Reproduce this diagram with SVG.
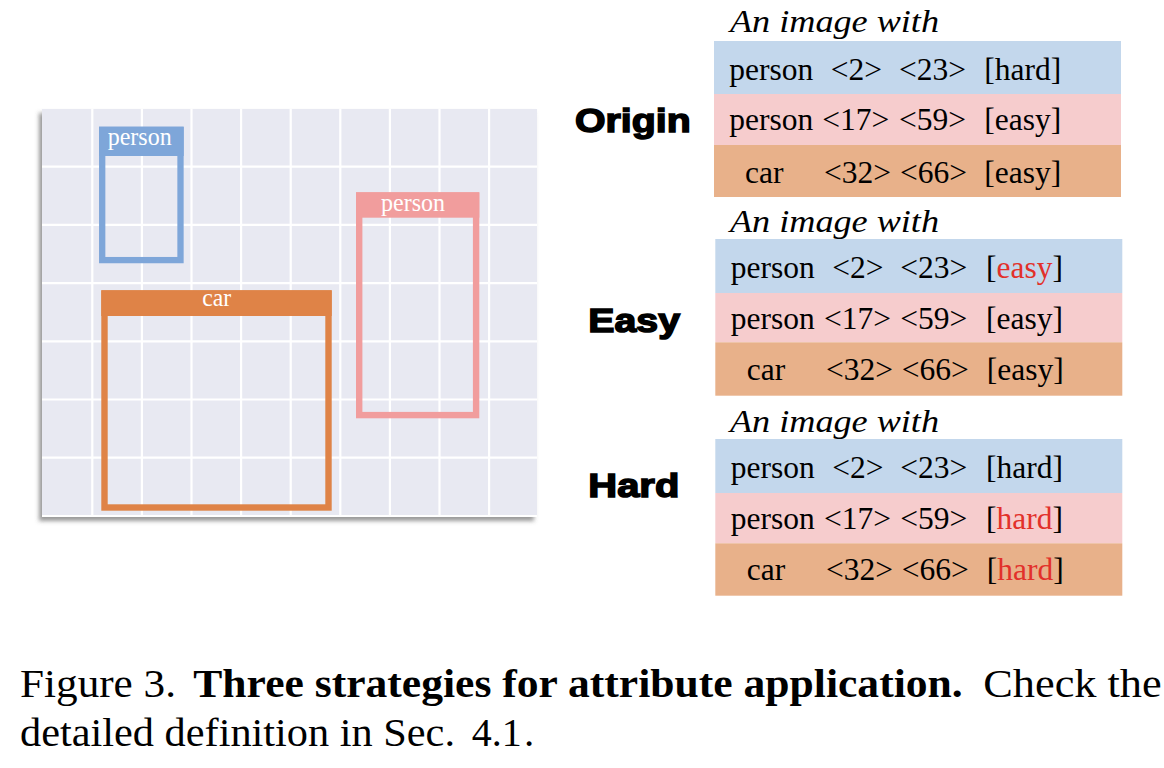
<svg xmlns="http://www.w3.org/2000/svg" width="1164" height="768" viewBox="0 0 1164 768">
<defs>
<filter id="shadow" x="-5%" y="-5%" width="110%" height="112%">
<feDropShadow dx="-3" dy="4" stdDeviation="2" flood-color="#555" flood-opacity="0.6"/>
</filter>
<style>
.grid{stroke:#ffffff;stroke-width:2.2;fill:none}
.lbl{font-family:"Liberation Serif","Times New Roman",serif;font-size:25px;fill:#ffffff;text-anchor:middle}
.row{font-family:"Liberation Serif","Times New Roman",serif;font-size:31.5px;fill:#000}
.it{font-family:"Liberation Serif","Times New Roman",serif;font-size:32px;font-style:italic;fill:#000}
.red{fill:#e2302a}
.sec{font-family:"Liberation Sans",Arial,sans-serif;font-size:34px;font-weight:bold;fill:#000;stroke:#000;stroke-width:1.5}
.cap{font-family:"Liberation Serif","Times New Roman",serif;font-size:41px;fill:#000}
.blue{fill:#c3d7ec}
.pink{fill:#f6cccd}
.orng{fill:#e8b18a}
</style>
</defs>
<rect width="1164" height="768" fill="#ffffff"/>

<g id="image">
<rect x="42" y="109" width="495" height="408" fill="#e8e9f2" filter="url(#shadow)"/>
<g class="grid">
<line x1="92.3" y1="109" x2="92.3" y2="517"/>
<line x1="141.9" y1="109" x2="141.9" y2="517"/>
<line x1="191.5" y1="109" x2="191.5" y2="517"/>
<line x1="241.1" y1="109" x2="241.1" y2="517"/>
<line x1="290.7" y1="109" x2="290.7" y2="517"/>
<line x1="340.3" y1="109" x2="340.3" y2="517"/>
<line x1="389.9" y1="109" x2="389.9" y2="517"/>
<line x1="439.5" y1="109" x2="439.5" y2="517"/>
<line x1="489.1" y1="109" x2="489.1" y2="517"/>
<line x1="42" y1="166.7" x2="537" y2="166.7"/>
<line x1="42" y1="224.9" x2="537" y2="224.9"/>
<line x1="42" y1="283.1" x2="537" y2="283.1"/>
<line x1="42" y1="341.3" x2="537" y2="341.3"/>
<line x1="42" y1="399.5" x2="537" y2="399.5"/>
<line x1="42" y1="457.7" x2="537" y2="457.7"/>
<line x1="42" y1="516" x2="537" y2="516"/>
</g>
</g>

<g id="box-person-blue">
<rect x="102.2" y="129.9" width="78.3" height="130.2" fill="none" stroke="#7ea6d9" stroke-width="6.3"/>
<rect x="99" y="126.7" width="84.7" height="29.3" fill="#7ea6d9"/>
<text class="lbl" x="139.7" y="145" textLength="64" lengthAdjust="spacingAndGlyphs">person</text>
</g>
<g id="box-person-pink">
<rect x="359.2" y="195.5" width="116.9" height="219.6" fill="none" stroke="#f19d9d" stroke-width="6.4"/>
<rect x="356" y="192.3" width="123.3" height="25.4" fill="#f19d9d"/>
<text class="lbl" x="413" y="211" textLength="64" lengthAdjust="spacingAndGlyphs">person</text>
</g>
<g id="box-car">
<rect x="104.5" y="293.5" width="224" height="214" fill="none" stroke="#df8347" stroke-width="6.4"/>
<rect x="101.3" y="290.3" width="230.4" height="25.7" fill="#df8347"/>
<text class="lbl" x="216.7" y="305.7" textLength="29" lengthAdjust="spacingAndGlyphs">car</text>
</g>

<g id="label-origin"><text class="sec" x="575" y="132.3" textLength="115.7" lengthAdjust="spacingAndGlyphs">Origin</text></g>
<g id="label-easy"><text class="sec" x="588.3" y="331.5" textLength="91.7" lengthAdjust="spacingAndGlyphs">Easy</text></g>
<g id="label-hard"><text class="sec" x="588.3" y="497.3" textLength="91" lengthAdjust="spacingAndGlyphs">Hard</text></g>

<g id="table-origin">
<text class="it" x="730" y="31.7" textLength="209" lengthAdjust="spacingAndGlyphs">An image with</text>
<rect class="blue" x="714" y="41" width="407" height="53"/>
<rect class="pink" x="714" y="94" width="407" height="51"/>
<rect class="orng" x="714" y="145" width="407" height="52"/>
<text class="row" y="79.5"><tspan x="729.3">person</tspan><tspan x="830.7">&lt;2&gt;</tspan><tspan x="899">&lt;23&gt;</tspan><tspan x="984.3">[hard]</tspan></text>
<text class="row" y="130"><tspan x="729.3">person</tspan><tspan x="822.3">&lt;17&gt;</tspan><tspan x="899">&lt;59&gt;</tspan><tspan x="984.3">[easy]</tspan></text>
<text class="row" y="182.5"><tspan x="745">car</tspan><tspan x="824">&lt;32&gt;</tspan><tspan x="900">&lt;66&gt;</tspan><tspan x="984.3">[easy]</tspan></text>
</g>

<g id="table-easy">
<text class="it" x="730" y="231.7" textLength="209" lengthAdjust="spacingAndGlyphs">An image with</text>
<rect class="blue" x="715.3" y="239" width="407" height="54"/>
<rect class="pink" x="715.3" y="293" width="407" height="49.3"/>
<rect class="orng" x="715.3" y="342.3" width="407" height="53.4"/>
<text class="row" y="277.5"><tspan x="730.7">person</tspan><tspan x="832.3">&lt;2&gt;</tspan><tspan x="900.3">&lt;23&gt;</tspan><tspan x="986">[</tspan><tspan class="red">easy</tspan><tspan>]</tspan></text>
<text class="row" y="328.5"><tspan x="730.7">person</tspan><tspan x="824">&lt;17&gt;</tspan><tspan x="900.3">&lt;59&gt;</tspan><tspan x="986">[easy]</tspan></text>
<text class="row" y="380"><tspan x="746.7">car</tspan><tspan x="826">&lt;32&gt;</tspan><tspan x="901.7">&lt;66&gt;</tspan><tspan x="986.7">[easy]</tspan></text>
</g>

<g id="table-hard">
<text class="it" x="730" y="431.7" textLength="209" lengthAdjust="spacingAndGlyphs">An image with</text>
<rect class="blue" x="715.3" y="439" width="407" height="54"/>
<rect class="pink" x="715.3" y="493" width="407" height="50.3"/>
<rect class="orng" x="715.3" y="543.3" width="407" height="52.4"/>
<text class="row" y="477.5"><tspan x="730.7">person</tspan><tspan x="832.3">&lt;2&gt;</tspan><tspan x="900.3">&lt;23&gt;</tspan><tspan x="986">[hard]</tspan></text>
<text class="row" y="528.5"><tspan x="730.7">person</tspan><tspan x="824">&lt;17&gt;</tspan><tspan x="900.3">&lt;59&gt;</tspan><tspan x="986">[</tspan><tspan class="red">hard</tspan><tspan>]</tspan></text>
<text class="row" y="580"><tspan x="746.7">car</tspan><tspan x="826">&lt;32&gt;</tspan><tspan x="901.7">&lt;66&gt;</tspan><tspan x="986.7">[</tspan><tspan class="red">hard</tspan><tspan>]</tspan></text>
</g>

<g id="caption">
<text class="cap" x="20" y="696.7" textLength="156" lengthAdjust="spacingAndGlyphs">Figure 3.</text>
<text class="cap" x="193.3" y="696.7" font-weight="bold" textLength="769.4" lengthAdjust="spacingAndGlyphs">Three strategies for attribute application.</text>
<text class="cap" x="983.3" y="696.7" textLength="178.4" lengthAdjust="spacingAndGlyphs">Check the</text>
<text class="cap" x="20" y="746.3" textLength="435" lengthAdjust="spacingAndGlyphs">detailed definition in Sec.</text>
<text class="cap red" x="471.7" y="746.3" textLength="50" lengthAdjust="spacingAndGlyphs">4.1</text>
<text class="cap" x="524" y="746.3">.</text>
</g>
</svg>
